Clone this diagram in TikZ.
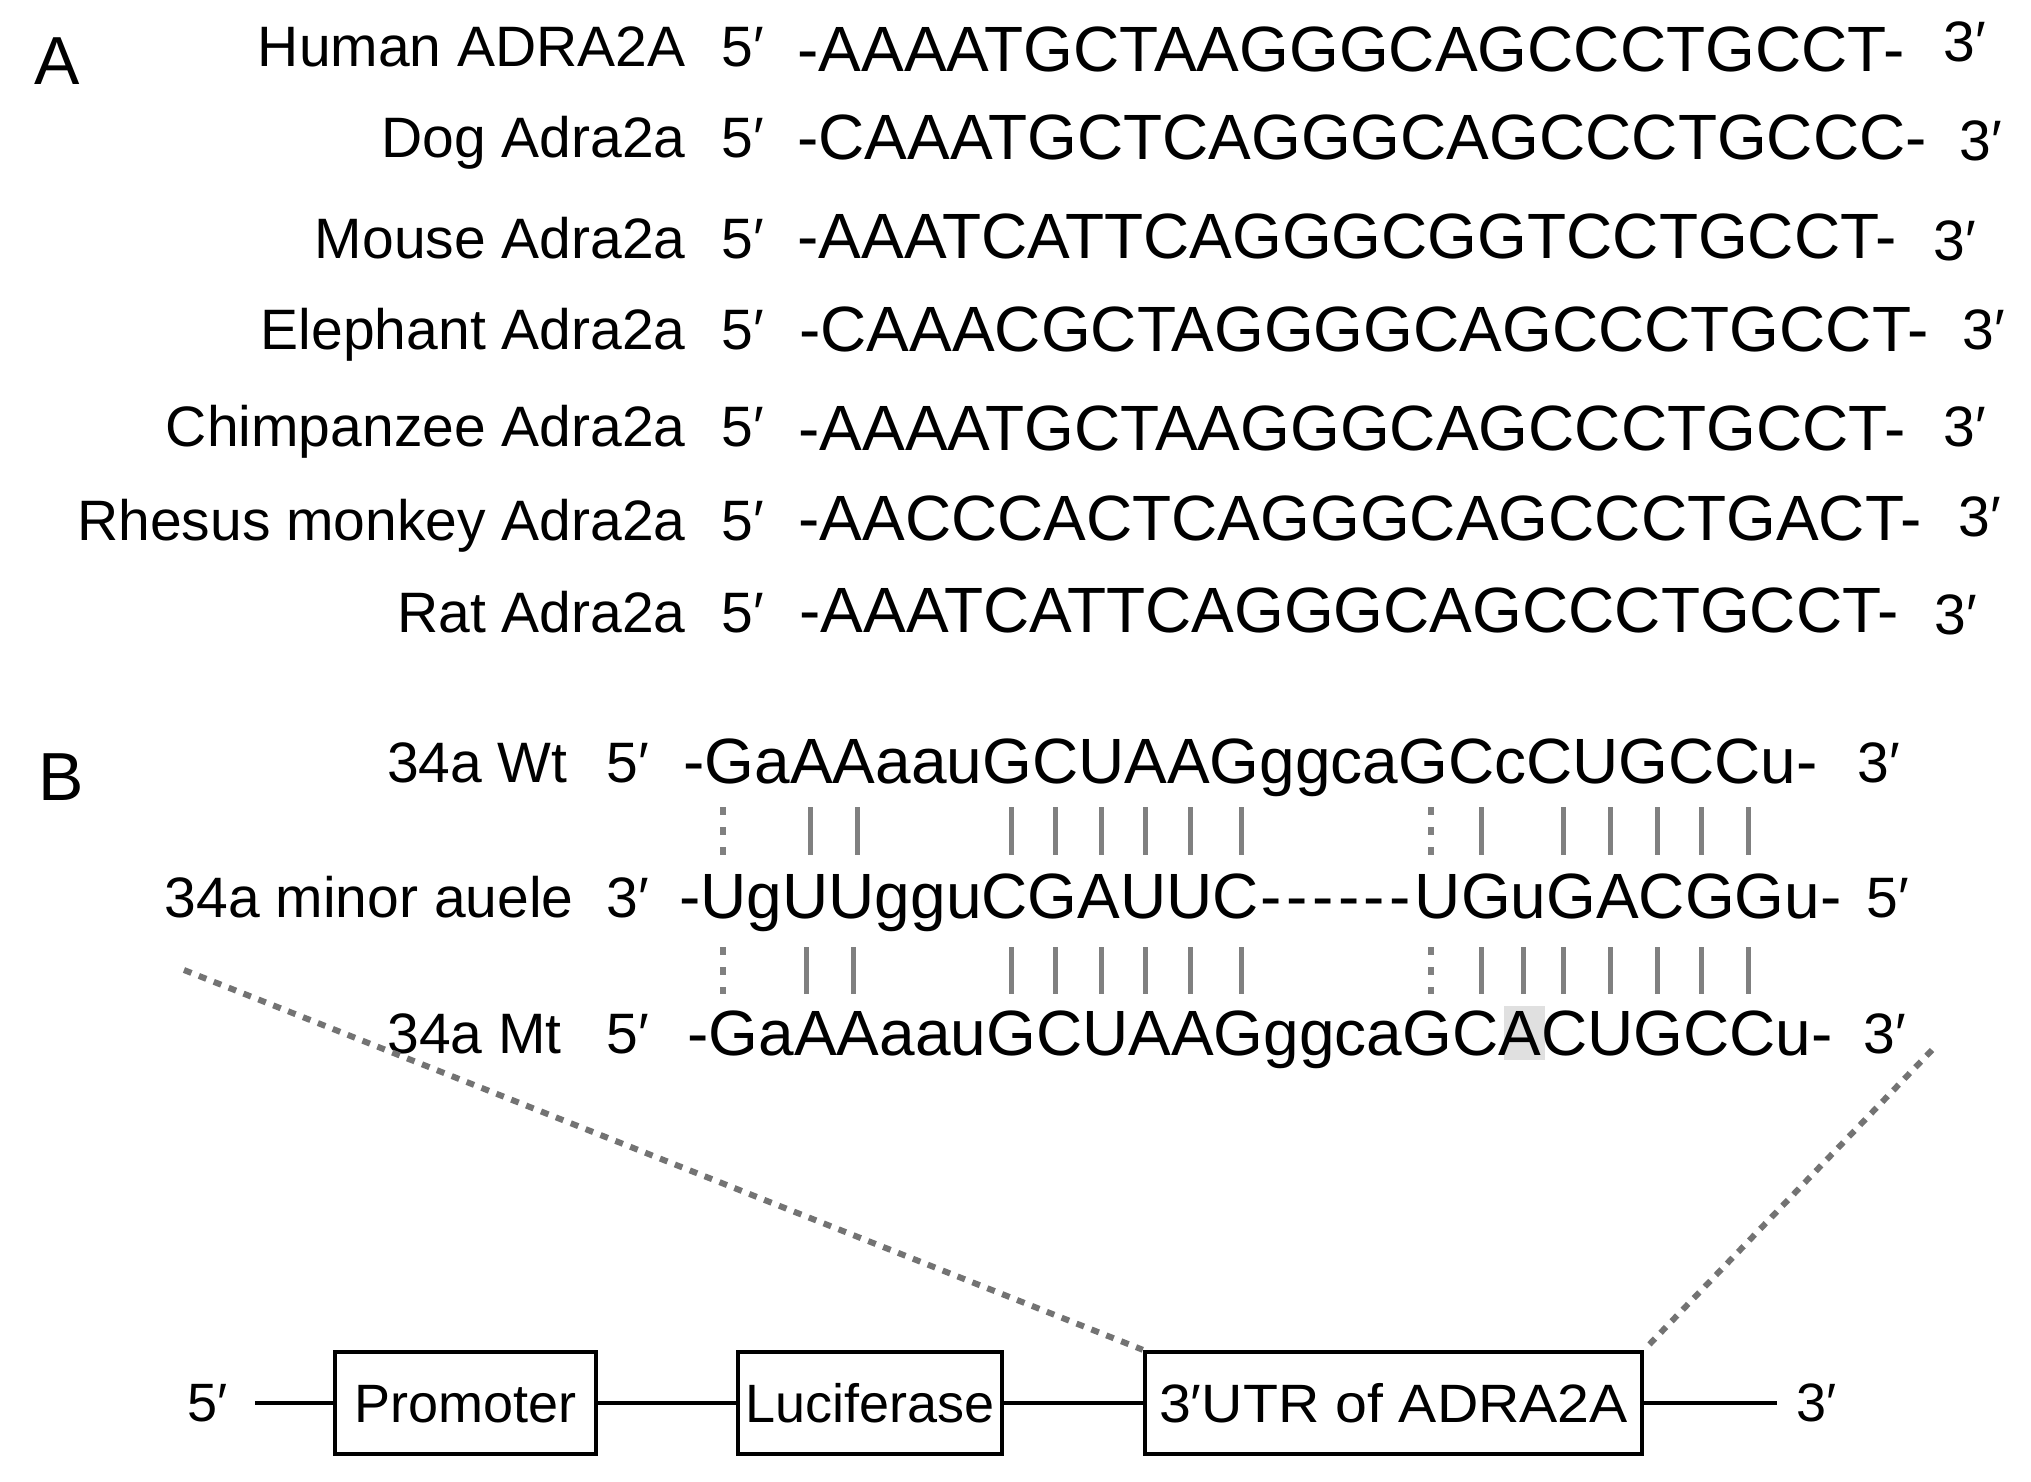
\documentclass[tikz,border=0pt]{standalone}
\usepackage{fontspec}
\setmainfont{Liberation Sans}
\definecolor{bondgray}{gray}{0.5}
\definecolor{zoomgray}{gray}{0.45}
\definecolor{hlgray}{gray}{0.88}
\newcommand\dsh{-\kern2.2pt}
\begin{document}
\begin{tikzpicture}[x=0.5pt,y=-0.5pt,
  lab/.style={inner sep=0pt,anchor=base east,font=\fontsize{28.5}{32}\selectfont},
  endl/.style={inner sep=0pt,anchor=base west,font=\fontsize{28.5}{32}\selectfont},
  seqt/.style={inner sep=0pt,anchor=base west,font=\fontsize{32}{36}\selectfont},
  panel/.style={inner sep=0pt,anchor=base west,font=\fontsize{34}{38}\selectfont},
  bond/.style={draw=bondgray,line width=2.5pt},
  weak/.style={draw=bondgray,line width=3pt,dash pattern=on 4pt off 6pt},
  zoomln/.style={draw=zoomgray,line width=3pt,dash pattern=on 4pt off 4pt},
  part/.style={draw=black,line width=2.2pt,inner sep=0pt,minimum height=51pt,
    font=\fontsize{27}{30}\selectfont,text height=19.5pt,text depth=0pt},
  link/.style={draw=black,line width=2pt}]
\fill[white] (0,0) rectangle (2031,1482);
\useasboundingbox (0,0) rectangle (2031,1482);

% ---------- Panel A ----------
\node[panel] (pA) at (34,85) {A};

\node[lab] (l1) at (686,67) {Human ADRA2A};
\node[endl] (f1) at (721,67) {5′};
\node[seqt] (s1) at (797,72) {-AAAATGCTAAGGGCAGCCCTGCCT-};
\node[endl] (t1) at (1943,62) {3′};

\node[lab] (l2) at (686,158) {Dog Adra2a};
\node[endl] (f2) at (721,158) {5′};
\node[seqt] (s2) at (797,160) {-CAAATGCTCAGGGCAGCCCTGCCC-};
\node[endl] (t2) at (1959,161) {3′};

\node[lab] (l3) at (686,259) {Mouse Adra2a};
\node[endl] (f3) at (721,259) {5′};
\node[seqt] (s3) at (797,259) {-AAATCATTCAGGGCGGTCCTGCCT-};
\node[endl] (t3) at (1933,261) {3′};

\node[lab] (l4) at (686,350) {Elephant Adra2a};
\node[endl] (f4) at (721,350) {5′};
\node[seqt] (s4) at (799,352) {-CAAACGCTAGGGGCAGCCCTGCCT-};
\node[endl] (t4) at (1962,350) {3′};

\node[lab] (l5) at (686,446) {Chimpanzee Adra2a};
\node[endl] (f5) at (721,446) {5′};
\node[seqt] (s5) at (798,451) {-AAAATGCTAAGGGCAGCCCTGCCT-};
\node[endl] (t5) at (1943,446) {3′};

\node[lab] (l6) at (686,540) {Rhesus monkey Adra2a};
\node[endl] (f6) at (721,540) {5′};
\node[seqt] (s6) at (798,540) {-AACCCACTCAGGGCAGCCCTGACT-};
\node[endl] (t6) at (1958,536) {3′};

\node[lab] (l7) at (686,632) {Rat Adra2a};
\node[endl] (f7) at (721,632) {5′};
\node[seqt] (s7) at (799,632) {-AAATCATTCAGGGCAGCCCTGCCT-};
\node[endl] (t7) at (1934,634) {3′};

% ---------- Panel B ----------
\node[panel] (pB) at (38,800) {B};

\fill[hlgray] (1504,1006) rectangle (1545,1060);

\node[lab] (wl) at (568,782) {34a Wt};
\node[endl] (w5) at (606,782) {5′};
\node[seqt] (ws) at (683,783) {-GaAAaauGCUAAGggcaGCcCUGCCu-};
\node[endl] (w3) at (1857,782) {3′};

\node[lab] (ml) at (574,917) {34a minor auele};
\node[endl] (m3) at (606,917) {3′};
\node[seqt] (ms) at (679,918) {-UgUUgguCGAUUC\kern1pt\dsh\dsh\dsh\dsh\dsh-\kern2pt UGuGACGGu-};
\node[endl] (m5) at (1866,917) {5′};

\node[lab] (tl) at (562,1053) {34a Mt};
\node[endl] (t5b) at (606,1053) {5′};
\node[seqt] (ts) at (687,1055) {-GaAAaauGCUAAGggcaGCACUGCCu-};
\node[endl] (t3b) at (1863,1053) {3′};

% base pairing marks
\foreach \x in {810,857,1011,1055,1101,1145,1190,1241,1481,1563,1610,1657,1701,1748}
  \draw[bond] (\x,807) -- (\x,855);
\foreach \x in {723,1431}
  \draw[weak] (\x,807) -- (\x,855);
\foreach \x in {806,853,1011,1055,1101,1145,1190,1241,1481,1523,1563,1610,1657,1701,1748}
  \draw[bond] (\x,947) -- (\x,994);
\foreach \x in {723,1431}
  \draw[weak] (\x,947) -- (\x,994);

% ---------- Construct ----------
\node[part,minimum width=130.5pt] (prom) at (465.5,1403) {Promoter};
\node[part,minimum width=132pt] (luc) at (870,1403) {Luciferase};
\node[part,minimum width=248.5pt] (utr) at (1393.5,1403) {\scalebox{1.06}[1]{3′UTR of ADRA2A}};
\coordinate (c5) at (255,1403);
\coordinate (c3) at (1777,1403);
\node[endl,font=\fontsize{27}{30}\selectfont] (e5) at (187,1421) {5′};
\node[endl,font=\fontsize{27}{30}\selectfont] (e3) at (1796,1421) {3′};
\draw[link] (c5) -- (prom.west);
\draw[link] (prom.east) -- (luc.west);
\draw[link] (luc.east) -- (utr.west);
\draw[link] (utr.east) -- (c3);

\coordinate (zl) at (184,970);
\coordinate (zr) at (1932,1050);
\draw[zoomln] (zl) -- (utr.north west);
\draw[zoomln] (zr) -- (utr.north east);
\end{tikzpicture}
\end{document}
